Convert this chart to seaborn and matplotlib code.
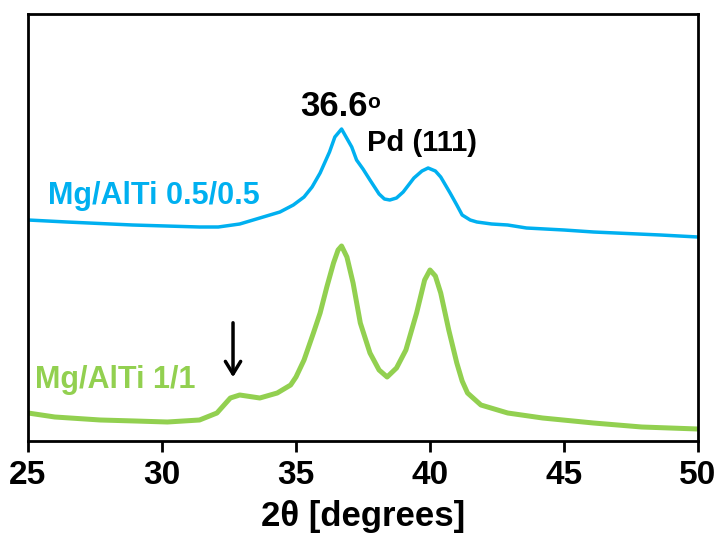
import numpy as np
import pandas as pd
import seaborn as sns
import matplotlib.pyplot as plt

# XRD patterns (y = height above the bottom axis, a.u.)
blue_x = [25.0, 26.45, 28.9, 31.4, 32.1, 32.9, 33.65, 34.4, 34.9, 35.3, 35.6, 35.9,
          36.25, 36.45, 36.7, 37.08, 37.26, 37.5, 37.76, 38.1, 38.3, 38.5, 38.75,
          39.0, 39.4, 39.7, 39.93, 40.2, 40.4, 40.75, 41.0, 41.2, 41.5, 41.75,
          42.3, 42.9, 43.6, 45.0, 46.1, 48.6, 50.0]
blue_y = [221, 219, 216, 214, 214, 217, 223, 229, 236, 244, 254, 268,
          289, 304, 312, 294, 281, 272, 261, 247, 242, 241, 243,
          249, 263, 270, 273, 270, 264, 248, 236, 226, 221, 219,
          217, 216, 213, 211, 209, 206, 204]

green_x = [25.0, 26.0, 27.7, 29.0, 30.2, 31.4, 32.05, 32.55, 32.9, 33.65,
           34.3, 34.8, 35.0, 35.3, 35.65, 35.9, 36.15, 36.4, 36.57, 36.7, 36.9,
           37.13, 37.4, 37.76, 38.1, 38.4, 38.75, 39.1, 39.5, 39.8, 40.0, 40.2,
           40.4, 40.7, 41.0, 41.2, 41.4, 41.9, 42.4, 42.9, 44.2, 46.1, 47.9, 50.0]
green_y = [28, 24, 21, 20, 19, 21, 28, 43, 46, 43,
           48, 56, 64, 81, 108, 128, 154, 178, 191, 195, 184,
           158, 118, 88, 71, 64, 73, 91, 128, 161, 171, 165,
           148, 111, 78, 60, 48, 36, 32, 28, 23, 18, 14, 12]

xticks = [25, 30, 35, 40, 45, 50]

blue = '#00B0F0'
green = '#92D050'

sns.set_style('white')
plt.rcParams['font.family'] = ['Liberation Sans', 'DejaVu Sans']

fig = plt.figure(figsize=(7.23, 5.38), dpi=100)
ax = fig.add_axes([28/723, 1-441/538, 670/723, 427/538])

df_b = pd.DataFrame({'x': blue_x, 'y': blue_y})
df_g = pd.DataFrame({'x': green_x, 'y': green_y})
sns.lineplot(data=df_b, x='x', y='y', color=blue, lw=2.5, ax=ax)
sns.lineplot(data=df_g, x='x', y='y', color=green, lw=3.6, ax=ax)

ax.set_xlim(25, 50)
ax.set_ylim(0, 427)
ax.set_yticks([])
ax.set_xticks(xticks)
ax.set_xticklabels([str(t) for t in xticks], fontsize=24, fontweight='bold', color='black')
ax.tick_params(axis='x', direction='out', length=8, width=2, pad=6, bottom=True, color='black')
ax.set_xlabel('2\u03b8 [degrees]', fontsize=25, fontweight='bold', color='black', labelpad=6)
ax.set_ylabel('')
for s in ax.spines.values():
    s.set_color('black')
    s.set_linewidth(2)

ax.text(25.75, 237, 'Mg/AlTi 0.5/0.5', color=blue, fontsize=22, fontweight='bold',
        ha='left', va='baseline')
ax.text(25.26, 53, 'Mg/AlTi 1/1', color=green, fontsize=22, fontweight='bold',
        ha='left', va='baseline')
ax.text(35.15, 325, '36.6', color='black', fontsize=25, fontweight='bold',
        ha='left', va='baseline')
ax.text(37.66, 348, 'o', color='black', fontsize=15, fontweight='bold',
        ha='left', va='top')
ax.text(37.65, 290, 'Pd (111)', color='black', fontsize=21, fontweight='bold',
        ha='left', va='baseline')
ax.annotate('', xy=(32.65, 61), xytext=(32.65, 121),
            arrowprops=dict(arrowstyle='->,head_length=0.9,head_width=0.55',
                            color='black', lw=2.5))

fig.savefig('out.png', dpi=100)
